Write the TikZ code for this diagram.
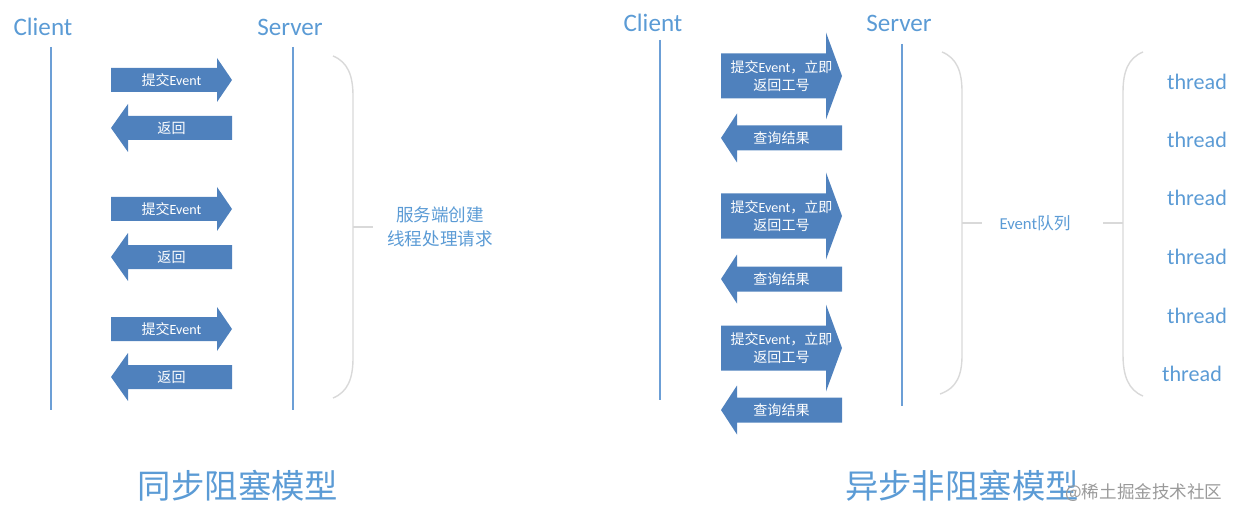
\documentclass[tikz,border=0pt]{standalone}
\usepackage{fontspec}
\setmainfont{Carlito}
\newfontfamily\cjkfont{Noto Sans CJK SC}
\usetikzlibrary{positioning}
\definecolor{flowBlue}{HTML}{4F81BD}
\definecolor{labelBlue}{HTML}{5B9BD5}
\definecolor{lifeBlue}{HTML}{6C9FD6}
\definecolor{braceGray}{HTML}{D9D9D9}
\definecolor{markGray}{HTML}{9A9A9A}
\newcommand{\zh}[1]{{\cjkfont #1}}
% block arrow: name, tail x, head base x, tip x, y, half shaft, half head, text
\newcommand{\blockarrow}[8]{%
  \fill[flowBlue] (#2,#5-#6) -- (#3,#5-#6) -- (#3,#5-#7) -- (#4,#5)
    -- (#3,#5+#7) -- (#3,#5+#6) -- (#2,#5+#6) -- cycle;
  \node[arrowtext] (#1) at ({(#2+#4)/2},#5) {#8};
}

\begin{document}
\begin{tikzpicture}[x=0.02cm, y=-0.02cm,
    arrowtext/.style={text=white, font=\fontsize{8}{9.8}\selectfont, align=center, inner sep=0pt},
    party/.style={text=labelBlue, font=\fontsize{14.3}{16}\selectfont, inner sep=0pt},
    note/.style={text=labelBlue, font=\fontsize{10}{13.6}\selectfont, align=center, inner sep=0pt},
    threadtext/.style={text=labelBlue, font=\fontsize{12.6}{14}\selectfont, inner sep=0pt},
    caption/.style={text=labelBlue, font=\cjkfont\fontsize{19}{22}\selectfont, inner sep=0pt},
    lifeline/.style={draw=lifeBlue, line width=0.9pt},
    bracket/.style={draw=braceGray, line width=0.8pt}]
    \useasboundingbox (0,0) rectangle (1240,520);

    % synchronous, blocking
    \node[party] (client1) at (43,27) {Client};
    \node[party] (server1) at (290,27) {Server};
    \draw[lifeline] (51,47) -- (51,410);
    \draw[lifeline] (293,47) -- (293,410);

    \foreach \y [count=\i] in {80,209,329}
        \blockarrow{submit\i}{111}{217}{232}{\y}{12}{22}{\zh{提交}Event};
    \foreach \y [count=\i] in {128,257,377}
        \blockarrow{reply\i}{232}{128}{111}{\y}{12}{24}{\zh{返回}};

    \draw[bracket] (333,56) .. controls (348,62) and (353,76) .. (353,96)
        -- (353,358) .. controls (353,378) and (348,392) .. (333,398);
    \coordinate (brace1) at (373,227);
    \draw[bracket] (353,227) -- (brace1);
    \node[note] (worker) at (440,227) {\zh{服务端创建}\\\zh{线程处理请求}};

    \node[caption] (title1) at (238,486) {同步阻塞模型};

    % asynchronous, non-blocking
    \node[party] (client2) at (653,23) {Client};
    \node[party] (server2) at (899,23) {Server};
    \draw[lifeline] (660,40) -- (660,400);
    \draw[lifeline] (902,44) -- (902,406);

    \foreach \y [count=\i] in {76,216,348}
        \blockarrow{post\i}{721}{826}{842}{\y}{22.5}{43.5}{\zh{提交}Event\zh{，立即}\\\zh{返回工号}};
    \foreach \y [count=\i] in {138,279,410}
        \blockarrow{query\i}{842}{737}{721}{\y}{12.5}{24.5}{\zh{查询结果}};

    \draw[bracket] (942,52) .. controls (957,58) and (962,72) .. (962,92)
        -- (962,355) .. controls (962,375) and (957,388) .. (940,394);
    \node[note, font=\fontsize{9.5}{11}\selectfont] (queue) at (1035,223) {Event\zh{队列}};
    \coordinate (qleft) at (962,223);
    \coordinate (qright) at (1123,223);
    \draw[bracket] (qleft) -- (982,223);
    \draw[bracket] (1103,223) -- (qright);
    \draw[bracket] (1143,52) .. controls (1128,58) and (1123,72) .. (1123,92)
        -- (1123,355) .. controls (1123,375) and (1128,390) .. (1143,396);

    \foreach \y [count=\i] in {82,140,198,257,316}
        \node[threadtext] (thread\i) at (1197,\y) {thread};
    \node[threadtext] (thread6) at (1192,374) {thread};

    \node[caption] (title2) at (962,486) {异步非阻塞模型};
    \node[text=markGray, font=\cjkfont\fontsize{10}{11}\selectfont, anchor=west, inner sep=0pt]
        (mark) at (1065,493) {@稀土掘金技术社区};
\end{tikzpicture}
\end{document}
